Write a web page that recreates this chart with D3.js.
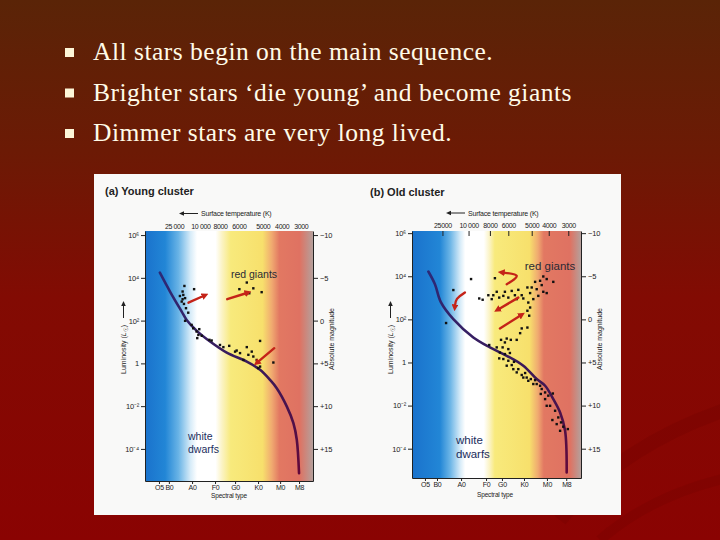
<!DOCTYPE html>
<html><head><meta charset="utf-8">
<script src="https://cdn.jsdelivr.net/npm/d3@7"></script>
<style>html,body{margin:0;padding:0;background:#7a0d04;} svg{display:block}</style>
</head><body>
<svg id="c" width="720" height="540"></svg>
<script>
// ---------------- data ----------------
const bulletLines = [
  "All stars begin on the main sequence.",
  "Brighter stars \u2018die young\u2019 and become giants",
  "Dimmer stars are very long lived."
];
const panelTitles = ["(a)  Young cluster", "(b)  Old cluster"];
const spectralLabels = ["O5", "B0", "A0", "F0", "G0", "K0", "M0", "M8"];
const spectralPosA = [0, 0.44, 1.47, 2.49, 3.38, 4.4, 5.38, 6.22];
const spectralPosB = [0, 0.53, 1.59, 2.69, 3.39, 4.36, 5.37, 6.22];
const tempLabelsA = ["25 000", "10 000", "8000", "6000", "5000", "4000", "3000"];
const tempLabelsB = ["25000", "10 000", "8000", "6000", "5000", "4000", "3000"];
const tempPosA = [0.67, 1.84, 2.71, 3.55, 4.61, 5.45, 6.3];
const tempPosB = [0.77, 1.92, 2.86, 3.67, 4.7, 5.45, 6.31];
const lumTicks = [1e6, 1e4, 1e2, 1, 1e-2, 1e-4];
const lumLabels = ["10\u2076", "10\u2074", "10\u00B2", "1", "10\u207B\u00B2", "10\u207B\u2074"];
const magTicks = [-10, -5, 0, 5, 10, 15];
const magLabels = ["\u221210", "\u22125", "0", "+5", "+10", "+15"];

// main sequence [spectral position, log10 L]
const youngMS = [[0.04,4.24],[0.49,3.36],[1.01,2.42],[1.23,2.03],[1.68,1.52],[2.27,1.02],[3.01,0.5],[3.9,0.08],[4.49,-0.3],[4.93,-0.77],[5.23,-1.16],[5.68,-2.02],[5.97,-2.79],[6.12,-3.57],[6.22,-5.13]];
const oldMS = [[0.15,4.22],[0.44,3.63],[0.7,2.8],[1.25,2.01],[2.13,1.16],[2.86,0.70],[3.6,0.31],[4.33,-0.15],[4.92,-0.77],[5.29,-1.08],[5.65,-1.70],[5.95,-2.32],[6.17,-3.17],[6.24,-5.1]];

// cluster stars [spectral position, log10 L]
const youngStars = [[1.13,3.62],[1.56,3.47],[1.05,3.36],[0.93,3.15],[1.08,3.20],[1.16,3.05],[1.01,2.89],[1.11,2.78],[1.2,2.58],[1.3,2.37],[1.05,3.0],
  [3.9,3.78],[3.57,3.47],[4.19,3.51],[4.01,3.28],[4.56,3.33],
  [1.16,1.99],[1.45,1.8],[1.52,1.64],[1.67,1.49],[1.79,1.6],[1.75,1.33],[1.9,1.29],[1.7,1.18],[2.24,1.1],[2.34,1.07],[2.71,0.86],[2.86,0.76],[3.12,0.82],[3.38,0.55],[3.45,0.6],[3.6,0.48],[3.9,0.76],[3.97,0.4],[4.12,0.55],[4.19,0.32],[4.49,1.05],[4.34,0.16],[4.49,-0.15],[5.08,0.04],[4.41,-0.22],[3.75,0.16]];
const oldStars = [[2.03,3.87],[3.08,3.91],[1.25,3.36],[0.93,1.83],
  [5.21,3.99],[5.07,3.79],[5.36,3.87],[5.65,3.74],[4.85,3.74],[5.14,3.59],[4.70,3.48],[4.92,3.40],[5.21,3.28],[5.36,3.22],[4.63,3.22],[4.51,3.48],[4.99,3.09],[4.77,2.94],[4.55,2.78],[4.63,2.55],[4.51,2.40],[4.59,2.17],[4.51,1.62],[4.26,1.58],[4.19,1.36],
  [2.39,2.97],[2.54,2.91],[2.79,3.12],[2.94,2.94],[3.01,3.12],[3.16,3.28],[3.27,3.01],[3.45,3.09],[3.52,3.28],[3.67,3.01],[3.82,3.32],[3.96,3.12],[4.11,3.37],[4.26,3.12],[4.33,2.97],[4.04,2.94],
  [3.6,1.11],[3.78,1.05],[3.35,1.05],[4.04,1.05],[3.52,0.93],[3.42,0.70],[3.67,0.62],[3.16,0.70],[2.83,0.81],[3.30,0.46],[3.52,0.39],[3.74,0.44],[3.27,0.19],[3.45,0.16],[3.67,0.08],[3.92,0.03],[3.60,-0.15],[3.82,-0.12],[4.11,-0.31],[4.41,-0.49],[4.26,-0.58],[4.48,-0.70],[4.66,-0.77],[4.85,-0.82],[4.55,-0.85],[4.92,-1.0],[5.07,-1.08],[5.14,-1.23],[5.29,-1.39],[5.43,-1.54],[5.63,-1.44],[5.36,-2.01],[5.51,-2.01],[5.73,-2.24],[5.61,-2.67],[5.87,-2.55],[5.99,-2.78],[5.80,-2.86],[6.09,-2.98],[5.95,-3.17],[6.29,-3.09],[3.89,-0.31],[4.04,-0.46],[4.33,-0.70],[4.77,-1.0],[5.10,-1.46],[5.29,-1.70]];

// evolution arrows [[x, logL], ...] (last point = head)
const youngArrows = [[[1.31,2.84],[1.97,3.15]], [[3.03,3.0],[3.87,3.28]], [[5.12,0.71],[4.41,0.08]]];
const oldArrows = [[[3.6,3.63],[4.04,4.02],[3.45,4.17]], [[1.76,3.25],[1.41,2.95],[1.32,2.63]], [[4.11,3.01],[3.26,2.48]], [[3.30,1.58],[4.19,2.17]]];

// ---------------- drawing ----------------
const svg = d3.select("#c");
const defs = svg.append("defs");
const SANS = "'Liberation Sans',Arial,sans-serif";

// slide background
const bgG = defs.append("linearGradient").attr("id","bg").attr("x1",0).attr("y1",0).attr("x2",0).attr("y2",1);
[[0,"#5a2407"],[0.28,"#6c1a05"],[0.55,"#820b03"],[1,"#8a0302"]].forEach(s=>bgG.append("stop").attr("offset",s[0]).attr("stop-color",s[1]));
svg.append("rect").attr("width",720).attr("height",540).attr("fill","url(#bg)");
// faint swooshes
svg.append("path").attr("d","M560,520 C600,470 660,430 740,405").attr("fill","none").attr("stroke","#6a0000").attr("stroke-opacity",0.22).attr("stroke-width",14);
svg.append("path").attr("d","M600,540 C640,505 690,485 740,475").attr("fill","none").attr("stroke","#6a0000").attr("stroke-opacity",0.2).attr("stroke-width",10);

// bullets
const bl = svg.append("g");
bulletLines.forEach((t,i)=>{
  const yb = 60 + i*40.5;
  bl.append("rect").attr("x",65).attr("y",yb-12).attr("width",9).attr("height",9).attr("fill","#fdf6d8");
  bl.append("text").attr("x",93).attr("y",yb).attr("font-family","'Liberation Serif','Times New Roman',serif")
    .attr("font-size",25.5).attr("letter-spacing",0.5).attr("fill","#fffbe8").text(t);
});

// figure box
svg.append("rect").attr("x",94).attr("y",174).attr("width",527).attr("height",341).attr("fill","#f9f9f8");

// main sequence stroke gradient
const msG = defs.append("linearGradient").attr("id","msg").attr("x1",0).attr("y1",0).attr("x2",0).attr("y2",1);
[[0,"#2c2a78"],[0.45,"#3a1a5a"],[1,"#62083a"]].forEach(s=>msG.append("stop").attr("offset",s[0]).attr("stop-color",s[1]));

// arrow marker
defs.append("marker").attr("id","ah").attr("viewBox","0 0 10 10").attr("refX",2).attr("refY",5)
  .attr("markerWidth",7).attr("markerHeight",7).attr("markerUnits","userSpaceOnUse").attr("orient","auto")
  .append("path").attr("d","M0,0 L10,5 L0,10 z").attr("fill","#c42318");

function drawPanel(cfg, idx){
  const g = svg.append("g");
  const x = d3.scaleLinear().domain(cfg.xDomain).range([cfg.left, cfg.right]);
  const y = d3.scaleLog().domain(cfg.yDomain).range([cfg.bottom, cfg.top]);
  const mag = d3.scaleLinear().domain(cfg.yDomain.map(v=>5-2.5*Math.log10(v))).range([cfg.bottom, cfg.top]);

  // colour band gradient
  const gid = "band"+idx;
  const lg = defs.append("linearGradient").attr("id",gid).attr("x1",0).attr("y1",0).attr("x2",1).attr("y2",0);
  cfg.stops.forEach(s=>lg.append("stop").attr("offset",s[0]).attr("stop-color",s[1]));
  g.append("rect").attr("x",cfg.left).attr("y",cfg.top).attr("width",cfg.right-cfg.left).attr("height",cfg.bottom-cfg.top).attr("fill","url(#"+gid+")");

  // title
  g.append("text").attr("x",cfg.titleX).attr("y",cfg.titleY).attr("font-family",SANS).attr("font-weight","bold")
    .attr("font-size",11).attr("fill","#222").text(panelTitles[idx]);

  // axes
  const styleAxis = (sel, ls) => { sel.selectAll("text").attr("font-family",SANS).attr("fill","#222").attr("letter-spacing",ls); sel.selectAll("line,path").attr("stroke","#222"); };
  const left = g.append("g").attr("transform",`translate(${cfg.left},0)`)
    .call(d3.axisLeft(y).tickValues(lumTicks).tickFormat((d,i)=>lumLabels[i]).tickSize(4).tickSizeOuter(0).tickPadding(2));
  left.attr("font-size",7.5); styleAxis(left, -0.2);
  const right = g.append("g").attr("transform",`translate(${cfg.right},0)`)
    .call(d3.axisRight(mag).tickValues(magTicks).tickFormat((d,i)=>magLabels[i]).tickSize(5).tickSizeOuter(0).tickPadding(2));
  right.attr("font-size",7.5); styleAxis(right, -0.2);
  const bottom = g.append("g").attr("transform",`translate(0,${cfg.bottom})`)
    .call(d3.axisBottom(x).tickValues(cfg.specPos).tickFormat((d,i)=>spectralLabels[i]).tickSize(3).tickSizeOuter(0).tickPadding(1));
  bottom.attr("font-size",7); styleAxis(bottom, -0.3);
  const topAx = g.append("g").attr("transform",`translate(0,${cfg.top})`)
    .call(d3.axisTop(x).tickValues(cfg.tempPos).tickFormat((d,i)=>cfg.tempLabels[i]).tickSize(cfg.topTick).tickSizeOuter(0).tickPadding(cfg.topPad));
  topAx.attr("font-size",7); styleAxis(topAx, -0.35); topAx.select(".domain").remove();

  // axis titles
  g.append("text").attr("x",cfg.stX).attr("y",cfg.stY).attr("font-family",SANS).attr("font-size",7).attr("letter-spacing",-0.2).attr("fill","#222").text("Surface temperature (K)");
  g.append("line").attr("x1",cfg.stX-3).attr("x2",cfg.stX-20).attr("y1",cfg.stY-2.5).attr("y2",cfg.stY-2.5).attr("stroke","#222").attr("stroke-width",1);
  g.append("path").attr("d",`M${cfg.stX-22},${cfg.stY-2.5} l5,-2.3 l0,4.6 z`).attr("fill","#222");
  g.append("text").attr("x",cfg.specX).attr("y",cfg.bottom+cfg.specDy).attr("text-anchor","middle").attr("font-family",SANS).attr("font-size",6.5).attr("letter-spacing",-0.15).attr("fill","#222").text("Spectral type");
  g.append("text").attr("transform",`translate(${cfg.right+21},339) rotate(-90)`).attr("text-anchor","middle").attr("font-family",SANS).attr("font-size",7).attr("fill","#222").text("Absolute magnitude");
  const lt = g.append("text").attr("transform",`translate(${cfg.left-19},374) rotate(-90)`).attr("font-family",SANS).attr("font-size",7).attr("fill","#222");
  lt.append("tspan").text("Luminosity (");
  lt.append("tspan").attr("font-style","italic").text("L");
  lt.append("tspan").attr("font-size",6).attr("dy",1.5).text("\u2609");
  lt.append("tspan").attr("dy",-1.5).text(")");
  g.append("line").attr("x1",cfg.left-21.5).attr("x2",cfg.left-21.5).attr("y1",318).attr("y2",305).attr("stroke","#222");
  g.append("path").attr("d",`M${cfg.left-21.5},301 l-2.3,5 l4.6,0 z`).attr("fill","#222");

  // main sequence
  const line = d3.line().x(d=>x(d[0])).y(d=>y(Math.pow(10,d[1]))).curve(d3.curveCatmullRom.alpha(0.5));
  g.append("path").attr("d",line(cfg.ms)).attr("fill","none").attr("stroke","url(#msg)").attr("stroke-width",2.6).attr("stroke-linecap","round");

  // stars
  g.selectAll("rect.star").data(cfg.stars).join("rect").attr("class","star")
    .attr("x",d=>x(d[0])-1.2).attr("y",d=>y(Math.pow(10,d[1]))-1.2).attr("width",2.4).attr("height",2.4).attr("fill","#111");

  // arrows
  const aline = d3.line().x(d=>x(d[0])).y(d=>y(Math.pow(10,d[1]))).curve(d3.curveNatural);
  cfg.arrows.forEach(a=>{
    g.append("path").attr("d",aline(a)).attr("fill","none").attr("stroke","#c42318").attr("stroke-width",2.4)
      .attr("stroke-linecap","round").attr("marker-end","url(#ah)");
  });

  // labels
  g.append("text").attr("x",cfg.rgX).attr("y",cfg.rgY).attr("text-anchor","middle").attr("font-family",SANS).attr("font-size",cfg.lblSize).attr("fill","#2a2a35").text("red giants");
  const wd = g.append("text").attr("x",cfg.wdX).attr("y",cfg.wdY).attr("font-family",SANS).attr("font-size",cfg.lblSize).attr("fill","#1b2d5c");
  wd.append("tspan").attr("x",cfg.wdX).text("white");
  wd.append("tspan").attr("x",cfg.wdX).attr("dy",cfg.lblSize*1.2).text("dwarfs");
}

drawPanel({
  left:145, right:313, top:231, bottom:481,
  xDomain:[-0.62, 6.84], yDomain:[Math.pow(10,-5.5), Math.pow(10,6.19)],
  specPos:spectralPosA, tempPos:tempPosA, tempLabels:tempLabelsA, topTick:0, topPad:2,
  titleX:105, titleY:194.5, stX:201, stY:216, specX:229, specDy:17,
  stops:[[0,"#1a72cc"],[0.12,"#2286d6"],[0.2,"#6ab4e6"],[0.27,"#d6ebf8"],[0.31,"#ffffff"],[0.42,"#ffffff"],[0.46,"#fbf3c2"],[0.51,"#f8ea7c"],[0.7,"#f7e06c"],[0.755,"#f0aa70"],[0.8,"#e27862"],[0.92,"#df7262"],[1,"#b4a09c"]],
  ms:youngMS, stars:youngStars, arrows:youngArrows,
  rgX:254, rgY:278, wdX:188, wdY:440, lblSize:10.5
}, 0);

drawPanel({
  left:412, right:581, top:231, bottom:478,
  xDomain:[-0.57, 6.87], yDomain:[Math.pow(10,-5.36), Math.pow(10,6.1)],
  specPos:spectralPosB, tempPos:tempPosB, tempLabels:tempLabelsB, topTick:-5, topPad:3.5,
  titleX:370, titleY:196, stX:468, stY:215.5, specX:495, specDy:19,
  stops:[[0,"#1a72cc"],[0.165,"#2286d6"],[0.225,"#6ab4e6"],[0.285,"#d6ebf8"],[0.315,"#ffffff"],[0.425,"#ffffff"],[0.46,"#fbf3c2"],[0.49,"#f8ea7c"],[0.695,"#f7e06c"],[0.745,"#f0aa70"],[0.78,"#e27862"],[0.935,"#df7262"],[1,"#b4a09c"]],
  ms:oldMS, stars:oldStars, arrows:oldArrows,
  rgX:550, rgY:269.5, wdX:456, wdY:444, lblSize:11.5
}, 1);
</script>
</body></html>
